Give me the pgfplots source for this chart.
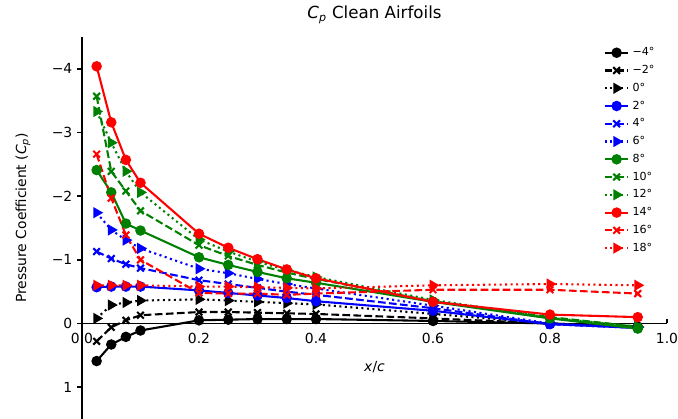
\documentclass[border=0pt]{standalone}
\usepackage{fontspec}
\setmainfont{DejaVu Sans}
\usepackage{pgfplots}
\pgfplotsset{compat=1.18}
\usepackage{pgfplotstable}
\definecolor{mplblue}{rgb}{0,0,1}
\definecolor{mplgreen}{rgb}{0,0.5,0}
\definecolor{mplred}{rgb}{1,0,0}

\pgfplotstableread{
x     m4    m2    p0    p2    p4    p6    p8    p10   p12   p14   p16   p18
0.025 0.59  0.28  -0.08 -0.57 -1.13 -1.74 -2.41 -3.57 -3.33 -4.04 -2.66 -0.60
0.05  0.33  0.06  -0.29 -0.58 -1.02 -1.47 -2.06 -2.39 -2.84 -3.16 -1.97 -0.60
0.075 0.21  -0.05 -0.33 -0.58 -0.93 -1.31 -1.57 -2.08 -2.39 -2.57 -1.39 -0.60
0.1   0.11  -0.13 -0.36 -0.58 -0.87 -1.18 -1.46 -1.77 -2.06 -2.21 -1.00 -0.60
0.2   -0.05 -0.18 -0.38 -0.52 -0.68 -0.86 -1.04 -1.23 -1.32 -1.41 -0.48 -0.58
0.25  -0.06 -0.18 -0.36 -0.48 -0.62 -0.79 -0.92 -1.06 -1.13 -1.19 -0.47 -0.58
0.3   -0.07 -0.17 -0.34 -0.44 -0.56 -0.70 -0.81 -0.92 -0.97 -1.01 -0.47 -0.57
0.35  -0.07 -0.16 -0.32 -0.40 -0.50 -0.62 -0.71 -0.80 -0.84 -0.85 -0.45 -0.56
0.4   -0.07 -0.15 -0.30 -0.35 -0.45 -0.55 -0.64 -0.70 -0.73 -0.71 -0.47 -0.55
0.6   -0.04 -0.08 -0.15 -0.20 -0.24 -0.28 -0.34 -0.35 -0.37 -0.34 -0.53 -0.60
0.8   0.00  0.00  0.00  0.01  0.01  0.00  -0.08 -0.10 -0.09 -0.14 -0.53 -0.62
0.95  0.05  0.05  0.05  0.07  0.07  0.06  0.08  0.05  0.05  -0.10 -0.47 -0.60
}\cpdata

\pgfplotsset{
  sc/.style={solid, line width=1.5pt, mark=*, mark size=3pt, mark options={solid}},
  sx/.style={line width=1.5pt, dash pattern=on 5.55pt off 2.4pt, mark=x, mark size=3.4pt, mark options={solid, line width=1.5pt}},
  st/.style={line width=1.5pt, dash pattern=on 1.5pt off 2.475pt, mark=triangle*, mark size=3.2pt, mark options={solid, rotate=-90}},
}

\begin{document}
\begin{tikzpicture}
\begin{axis}[
  scale only axis, width=421.2pt, height=275.04pt,
  xmin=0, xmax=1, ymin=-4.5, ymax=1.5, y dir=reverse,
  clip=false,
  axis lines=middle, axis line style={-, line width=1.1pt, black},
  hide obscured x ticks=false, hide obscured y ticks=false,
  xtick={0,0.2,0.4,0.6,0.8,1}, xticklabels={0.0,0.2,0.4,0.6,0.8,1.0},
  ytick={-4,-3,-2,-1,0,1}, yticklabels={−4,−3,−2,−1,0,1},
  tick align=outside, major tick length=3.5pt,
  tick style={line width=1pt, black},
  ticklabel style={font=\fontsize{10}{12}\selectfont},
  legend cell align=left,
  legend style={at={(axis cs:0.9915,-4.43)}, anchor=north east, draw=none, fill=none,
    font=\fontsize{8}{9}\selectfont, row sep=0.95pt,
    nodes={inner sep=2.2pt}},
]
\addplot[sc, black]    table[x=x,y=m4] {\cpdata}; \addlegendentry{−4°}
\addplot[sx, black]    table[x=x,y=m2] {\cpdata}; \addlegendentry{−2°}
\addplot[st, black]    table[x=x,y=p0] {\cpdata}; \addlegendentry{0°}
\addplot[sc, mplblue]  table[x=x,y=p2] {\cpdata}; \addlegendentry{2°}
\addplot[sx, mplblue]  table[x=x,y=p4] {\cpdata}; \addlegendentry{4°}
\addplot[st, mplblue]  table[x=x,y=p6] {\cpdata}; \addlegendentry{6°}
\addplot[sc, mplgreen] table[x=x,y=p8] {\cpdata}; \addlegendentry{8°}
\addplot[sx, mplgreen] table[x=x,y=p10] {\cpdata}; \addlegendentry{10°}
\addplot[st, mplgreen] table[x=x,y=p12] {\cpdata}; \addlegendentry{12°}
\addplot[sc, mplred]   table[x=x,y=p14] {\cpdata}; \addlegendentry{14°}
\addplot[sx, mplred]   table[x=x,y=p16] {\cpdata}; \addlegendentry{16°}
\addplot[st, mplred]   table[x=x,y=p18] {\cpdata}; \addlegendentry{18°}
\coordinate (bl) at (axis cs:0,1.5);
\coordinate (tr) at (axis cs:1,-4.5);
\node[anchor=base, font=\fontsize{12}{14}\selectfont] at (axis cs:0.5,-4.5) [yshift=13pt] {\textit{C}\textsubscript{\textit{p}} Clean Airfoils};
\node[anchor=center, font=\fontsize{10}{12}\selectfont] at (axis cs:0.5,0) [yshift=-31.7pt] {\textit{x}/\textit{c}};
\node[anchor=center, rotate=90, font=\fontsize{10}{12}\selectfont] at (axis cs:-0.1009,-1.66) {Pressure Coefficient (\textit{C}\textsubscript{\textit{p}})};
\end{axis}
\pgfresetboundingbox
\path[use as bounding box] ([xshift=-59.04pt]bl) rectangle ([xshift=7.92pt,yshift=26.64pt]tr);
\end{tikzpicture}
\end{document}
